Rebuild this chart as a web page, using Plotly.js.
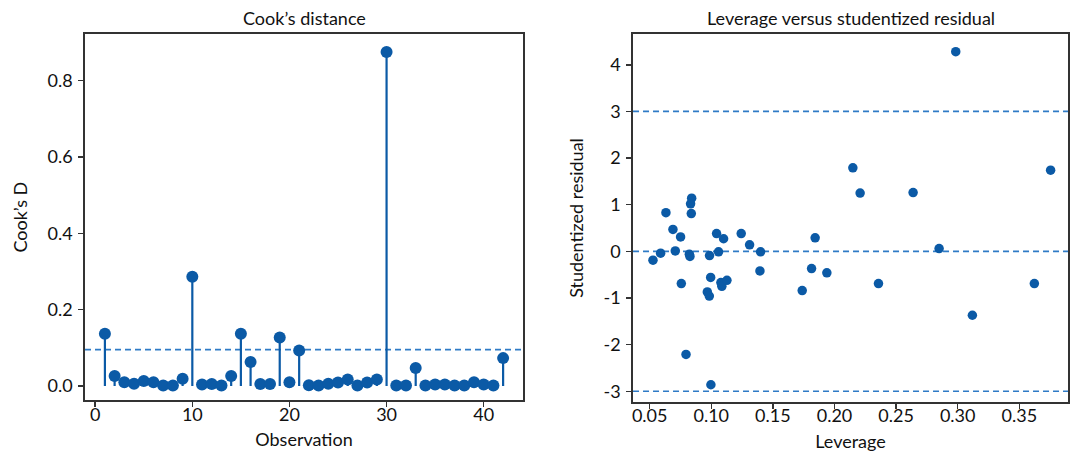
<!DOCTYPE html>
<html>
<head>
<meta charset="utf-8">
<script src="https://cdn.plot.ly/plotly-3.0.1.min.js"></script>
<style>html,body{margin:0;padding:0;background:#fff;}#chart{width:1071px;height:454px;}</style>
</head>
<body>
<div id="chart"></div>
<script>
// ---- Data ----
const observations = Array.from({length: 42}, (_, i) => i + 1);
const cooksD = [0.137, 0.026, 0.010, 0.006, 0.013, 0.010, 0.001, 0.001, 0.019, 0.286,
                0.004, 0.005, 0.001, 0.026, 0.137, 0.063, 0.005, 0.005, 0.127, 0.010,
                0.093, 0.002, 0.001, 0.006, 0.009, 0.017, 0.001, 0.009, 0.017, 0.875,
                0.001, 0.001, 0.047, 0.001, 0.004, 0.004, 0.001, 0.001, 0.010, 0.004,
                0.001, 0.073];
const cooksThreshold = 4 / 42;

const leverage = [0.0527, 0.0589, 0.0632, 0.0689, 0.0708, 0.0751, 0.0757, 0.0795, 0.0822, 0.0827,
                  0.0841, 0.0832, 0.0838, 0.0968, 0.0984, 0.0986, 0.0995, 0.0997, 0.1043, 0.1059,
                  0.1078, 0.1086, 0.1100, 0.1127, 0.1243, 0.1311, 0.1400, 0.1395, 0.1738, 0.1814,
                  0.1843, 0.1938, 0.2149, 0.2208, 0.2357, 0.2638, 0.2849, 0.2984, 0.3119, 0.3622,
                  0.3754];
const studResid = [-0.19, -0.04, 0.83, 0.47, 0.01, 0.31, -0.69, -2.21, -0.06, -0.11,
                   1.14, 1.02, 0.81, -0.87, -0.96, -0.09, -0.56, -2.86, 0.38, -0.01,
                   -0.67, -0.75, 0.27, -0.62, 0.38, 0.14, -0.01, -0.42, -0.84, -0.37,
                   0.29, -0.46, 1.79, 1.25, -0.69, 1.26, 0.06, 4.28, -1.37, -0.69,
                   1.74];
const residLines = [-3, 0, 3];

const cookXTicks = [0, 10, 20, 30, 40];
const cookYTicks = [0.0, 0.2, 0.4, 0.6, 0.8];
const cookYTickLabels = ['0.0', '0.2', '0.4', '0.6', '0.8'];
const levXTicks = [0.05, 0.10, 0.15, 0.20, 0.25, 0.30, 0.35];
const levXTickLabels = ['0.05', '0.10', '0.15', '0.20', '0.25', '0.30', '0.35'];
const residYTicks = [-3, -2, -1, 0, 1, 2, 3, 4];
const residYTickLabels = ['-3', '-2', '-1', '0', '1', '2', '3', '4'];

// ---- Styles ----
const markerColor = '#0b5aa6';
const dashColor = '#2f7bc6';
const spineColor = '#333333';
const FONT = 'Lato, "Open Sans", sans-serif';
const textColor = '#111111';
const TICK_SIZE = 18;
const LABEL_SIZE = 18;

const traces = [
  {
    x: observations, y: cooksD, xaxis: 'x', yaxis: 'y',
    type: 'scatter', mode: 'markers',
    marker: {color: markerColor, size: 12},
    error_y: {type: 'data', symmetric: false, array: cooksD.map(() => 0), arrayminus: cooksD,
              width: 0, thickness: 2.2, color: markerColor},
    showlegend: false
  },
  {
    x: leverage, y: studResid, xaxis: 'x2', yaxis: 'y2',
    type: 'scatter', mode: 'markers',
    marker: {color: markerColor, size: 9.5},
    showlegend: false
  }
];

const shapes = [
  {type: 'line', xref: 'x domain', yref: 'y', x0: 0, x1: 1, y0: cooksThreshold, y1: cooksThreshold,
   line: {color: dashColor, width: 1.6, dash: '6px,4px'}, layer: 'below'}
].concat(residLines.map(v => ({
   type: 'line', xref: 'x2 domain', yref: 'y2', x0: 0, x1: 1, y0: v, y1: v,
   line: {color: dashColor, width: 1.6, dash: '6px,4px'}, layer: 'below'})));

const axisCommon = {
  showgrid: false, zeroline: false, showline: true, mirror: true,
  linecolor: spineColor, linewidth: 1.8,
  ticks: 'outside', ticklen: 5, tickwidth: 1.5, tickcolor: spineColor,
  tickfont: {family: FONT, size: TICK_SIZE, color: textColor}
};
const titleFont = {family: FONT, size: LABEL_SIZE, color: textColor};

const layout = {
  width: 1071, height: 454,
  margin: {l: 85, r: 3, t: 34, b: 52.3},
  paper_bgcolor: '#ffffff', plot_bgcolor: '#ffffff',
  font: {family: FONT, size: 16, color: textColor},
  xaxis: Object.assign({}, axisCommon, {
    domain: [0, 0.4456], anchor: 'y', range: [-1.05, 44.05],
    tickvals: cookXTicks, ticklabelstandoff: -8,
    title: {text: 'Observation', font: titleFont, standoff: 10}
  }),
  yaxis: Object.assign({}, axisCommon, {
    domain: [0.0046, 1], anchor: 'x', range: [-0.0375, 0.922],
    tickvals: cookYTicks, ticktext: cookYTickLabels, ticklabelstandoff: 2,
    title: {text: 'Cook’s D', font: titleFont, standoff: 15}
  }),
  xaxis2: Object.assign({}, axisCommon, {
    domain: [0.5575, 1], anchor: 'y2', range: [0.0365, 0.3895],
    tickvals: levXTicks, ticktext: levXTickLabels, ticklabelstandoff: -8,
    title: {text: 'Leverage', font: titleFont, standoff: 10}
  }),
  yaxis2: Object.assign({}, axisCommon, {
    domain: [0, 1], anchor: 'x2', range: [-3.23, 4.66],
    tickvals: residYTicks, ticktext: residYTickLabels, ticklabelstandoff: 2,
    title: {text: 'Studentized residual', font: titleFont, standoff: 15}
  }),
  shapes: shapes,
  annotations: [
    {text: 'Cook’s distance', xref: 'x domain', yref: 'paper', x: 0.5, y: 1, yshift: 16,
     showarrow: false, xanchor: 'center', yanchor: 'middle', font: titleFont},
    {text: 'Leverage versus studentized residual', xref: 'x2 domain', yref: 'paper', x: 0.5, y: 1, yshift: 16,
     showarrow: false, xanchor: 'center', yanchor: 'middle', font: titleFont}
  ]
};

Plotly.newPlot('chart', traces, layout, {displayModeBar: false, staticPlot: true});
</script>
</body>
</html>
